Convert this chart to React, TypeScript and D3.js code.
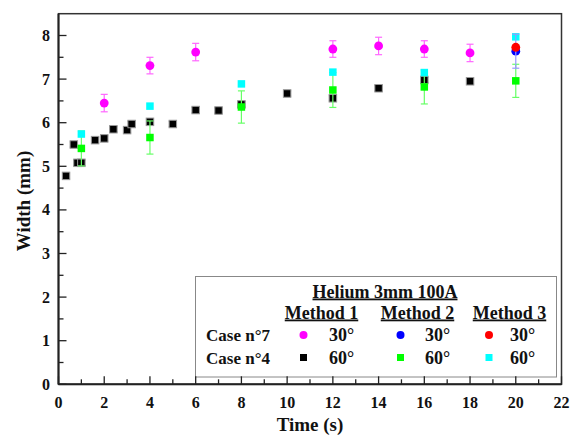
import * as d3 from 'd3';

// Case n°4, Method 1, 60° (black squares)
const t4m1 = [0.33, 0.67, 0.83, 1.0, 1.6, 2.0, 2.4, 3.0, 3.2, 4.0, 5.0, 6.0, 7.0, 8.0, 10.0, 12.0, 14.0, 16.0, 18.0];
const w4m1 = [4.78, 5.5, 5.08, 5.08, 5.6, 5.64, 5.85, 5.83, 5.97, 6.02, 5.97, 6.29, 6.28, 6.42, 6.67, 6.56, 6.79, 6.98, 6.95];
const e4m1 = [0.06, 0.06, 0.06, 0.06, 0.06, 0.06, 0.06, 0.06, 0.06, 0.06, 0.06, 0.06, 0.06, 0.06, 0.06, 0.06, 0.06, 0.06, 0.06];

// Case n°4, Method 2, 60° (green squares)
const t4m2 = [1, 4, 8, 12, 16, 20];
const w4m2 = [5.41, 5.66, 6.36, 6.75, 6.82, 6.96];
const e4m2 = [0.4, 0.38, 0.37, 0.4, 0.39, 0.38];

// Case n°4, Method 3, 60° (cyan squares)
const t4m3 = [1, 4, 8, 12, 16, 20];
const w4m3 = [5.74, 6.38, 6.89, 7.16, 7.15, 7.97];

// Case n°7, Method 1, 30° (magenta circles)
const t7m1 = [2, 4, 6, 12, 14, 16, 18];
const w7m1 = [6.45, 7.31, 7.62, 7.69, 7.76, 7.69, 7.6];
const e7m1 = [0.2, 0.19, 0.2, 0.19, 0.2, 0.19, 0.2];

// Case n°7, Method 2 and 3, 30°
const t7m2 = [20];
const w7m2 = [7.64];
const e7m2 = [0.39];
const t7m3 = [20];
const w7m3 = [7.73];

const xTickValues = d3.range(0, 23, 1);
const yTickValues = d3.range(0, 8.5, 0.5);

const W = 571;
const H = 437;
const font = "'Liberation Serif', 'Times New Roman', serif";

const x = d3.scaleLinear().domain([0, 22]).range([58.5, 561.5]);
const y = d3.scaleLinear().domain([0, 8.5]).range([384.3, 13.7]);

function ErrorBars({ ts, ws, es, color, cap = 7, sw = 1.2 }: { ts: number[]; ws: number[]; es: number[]; color: string; cap?: number; sw?: number }) {
  return (
    <g stroke={color} strokeWidth={sw} fill="none">
      {ts.map((t, i) => {
        const cx = x(t);
        const y0 = y(ws[i] - es[i]);
        const y1 = y(ws[i] + es[i]);
        return (
          <g key={i}>
            <line x1={cx} x2={cx} y1={y0} y2={y1} />
            <line x1={cx - cap / 2} x2={cx + cap / 2} y1={y0} y2={y0} />
            <line x1={cx - cap / 2} x2={cx + cap / 2} y1={y1} y2={y1} />
          </g>
        );
      })}
    </g>
  );
}

function Squares({ ts, ws, color, size = 7.5, stroke }: { ts: number[]; ws: number[]; color: string; size?: number; stroke?: string }) {
  return (
    <g fill={color} stroke={stroke ?? 'none'} strokeWidth={1}>
      {ts.map((t, i) => (
        <rect key={i} x={x(t) - size / 2} y={y(ws[i]) - size / 2} width={size} height={size} />
      ))}
    </g>
  );
}

function Circles({ ts, ws, color, r = 4.4 }: { ts: number[]; ws: number[]; color: string; r?: number }) {
  return (
    <g fill={color}>
      {ts.map((t, i) => (
        <circle key={i} cx={x(t)} cy={y(ws[i])} r={r} />
      ))}
    </g>
  );
}

export default function App() {
  const [x0, x1] = x.range();
  const [yb, yt] = y.range();
  const axisColor = '#222';

  const legRows = [
    { label: 'Case n°7', deg: '30°', shape: 'circle', colors: ['#ff00ff', '#0000ff', '#ff0000'], ty: 341, my: 335 },
    { label: 'Case n°4', deg: '60°', shape: 'square', colors: ['#000000', '#00ff00', '#00ffff'], ty: 363.5, my: 357.5 },
  ];
  const methods = [
    { name: 'Method 1', cx: 321.5, mx: 303.5, tx: 329 },
    { name: 'Method 2', cx: 417.5, mx: 400.5, tx: 425 },
    { name: 'Method 3', cx: 509.5, mx: 489, tx: 510 },
  ];

  return (
    <svg width={W} height={H} style={{ position: 'absolute', left: 0, top: 0, background: '#fff' }} fontFamily={font} fontWeight="bold">
      {/* frame */}
      <rect x={x0} y={yt} width={x1 - x0} height={yb - yt} fill="none" stroke="#333" strokeWidth={1.5} />

      {/* legend box */}
      <rect x={195.5} y={276.5} width={361} height={100.5} fill="#fff" stroke="#888" strokeWidth={1} />

      {/* x ticks */}
      <g stroke={axisColor} strokeWidth={1.3}>
        {xTickValues.map((v) => (
          <line key={v} x1={x(v)} x2={x(v)} y1={yb} y2={yb - (v % 2 === 0 ? 8 : 5)} />
        ))}
        {yTickValues.map((v) => (
          <line key={v} x1={x0} x2={x0 + (v % 1 === 0 ? 8 : 5)} y1={y(v)} y2={y(v)} />
        ))}
      </g>
      <line x1={x0} x2={x1} y1={yb} y2={yb} stroke={axisColor} strokeWidth={2} />
      <line x1={x0} x2={x0} y1={yb} y2={yt} stroke={axisColor} strokeWidth={2} />

      {/* tick labels */}
      <g fontSize={16} fill="#111">
        {xTickValues.filter((v) => v % 2 === 0).map((v) => (
          <text key={v} x={x(v)} y={407.5} textAnchor="middle">{v}</text>
        ))}
        {yTickValues.filter((v) => v % 1 === 0).map((v) => (
          <text key={v} x={50} y={y(v) + 5.5} textAnchor="end">{v}</text>
        ))}
      </g>

      {/* axis labels */}
      <text x={310} y={431} textAnchor="middle" fontSize={19} fill="#111">Time (s)</text>
      <text transform={`translate(30, ${(yb + yt) / 2 + 2}) rotate(-90)`} textAnchor="middle" fontSize={19} fill="#111">Width (mm)</text>

      {/* data */}
      <ErrorBars ts={t4m1} ws={w4m1} es={e4m1} color="#777" cap={8} sw={1} />
      <Squares ts={t4m1} ws={w4m1} color="#000" size={7.5} stroke="#999" />
      <ErrorBars ts={t4m2} ws={w4m2} es={e4m2} color="#66ff66" />
      <Squares ts={t4m2} ws={w4m2} color="#00ff00" />
      <Squares ts={t4m3} ws={w4m3} color="#00ffff" />
      <ErrorBars ts={t7m1} ws={w7m1} es={e7m1} color="#ff66ff" />
      <Circles ts={t7m1} ws={w7m1} color="#ff00ff" />
      <Circles ts={t7m2} ws={w7m2} color="#0000ff" />
      <ErrorBars ts={t7m2} ws={w7m2} es={e7m2} color="#9999ff" />
      <Circles ts={t7m3} ws={w7m3} color="#ff0000" />

      {/* legend */}
      <g fill="#111">
        <text x={385} y={297.5} textAnchor="middle" fontSize={18} textDecoration="underline">Helium 3mm 100A</text>
        {methods.map((m) => (
          <text key={m.name} x={m.cx} y={318.5} textAnchor="middle" fontSize={18} textDecoration="underline">{m.name}</text>
        ))}
        {legRows.map((r) => (
          <g key={r.label}>
            <text x={206} y={r.ty} fontSize={17}>{r.label}</text>
            {methods.map((m, i) => (
              <g key={m.name}>
                {r.shape === 'circle' ? (
                  <circle cx={m.mx} cy={r.my} r={4} fill={r.colors[i]} />
                ) : (
                  <rect x={m.mx - 3.5} y={r.my - 3.5} width={7} height={7} fill={r.colors[i]} />
                )}
                <text x={m.tx} y={r.ty} fontSize={18}>{r.deg}</text>
              </g>
            ))}
          </g>
        ))}
      </g>
    </svg>
  );
}
